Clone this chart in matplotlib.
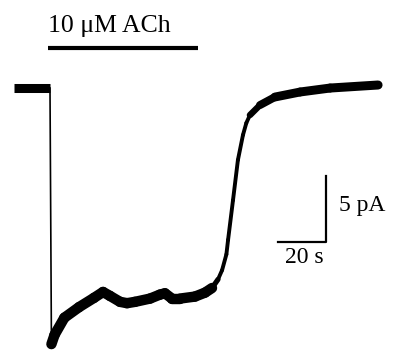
import matplotlib
matplotlib.use("Agg")
import matplotlib.pyplot as plt
import numpy as np
from matplotlib.collections import LineCollection

# current trace (time in s, current in pA, baseline = 0)
base_t = [0, 15]
base_i = [0, 0]
drop_t = [15, 15.6]
drop_i = [0, -19.4]
trace_t = [15.6, 16.9, 21.0, 27.1, 33.3, 37.1, 40.0, 44.2, 47.1, 50.4, 56.7, 60.8,
           62.9, 65.8, 69.2, 75.4, 79.6, 82.5, 85.0, 86.7, 88.5, 89.2, 91.25, 93.3,
           95.4, 96.8, 98.3, 102.5, 108.75, 119.2, 131.7, 151.7]
trace_i = [-19.4, -18.7, -17.4, -16.6, -15.9, -15.45, -15.75, -16.2, -16.3, -16.2,
           -15.95, -15.65, -15.55, -15.95, -15.95, -15.8, -15.5, -15.15, -14.5, -13.8,
           -12.6, -11.5, -8.5, -5.45, -3.56, -2.65, -2.05, -1.29, -0.68, -0.3, 0.0, 0.23]

ach_on, ach_off = 14.2, 76.7
bar_t, bar_i = 20, 5   # scale bar sizes

fig = plt.figure(figsize=(3.95, 3.54), dpi=100)
ax = fig.add_axes([0, 0, 1, 1])
ax.set_xlim(-5.83, 158.75)
ax.set_ylim(-20.15, 6.67)
ax.axis('off')

ax.plot(base_t, base_i, color='black', lw=6.5, solid_capstyle='butt')
ax.plot(drop_t, drop_i, color='black', lw=1.2)

# thick noisy trace: roughly constant vertical thickness, so thinner where steep
pts = np.column_stack([trace_t, trace_i])
segs = np.stack([pts[:-1], pts[1:]], axis=1)
pix_slope = np.abs(np.diff(trace_i) / np.diff(trace_t)) * 5.5
widths = np.maximum(6.5 / np.sqrt(1 + pix_slope ** 2), 2.8)
widths[np.array(trace_t[:-1]) < 80] = 7.5   # noisy trough is thickest
lc = LineCollection(segs, colors='black', linewidths=widths, capstyle='round', joinstyle='round')
ax.add_collection(lc)

# ACh application bar
ax.plot([ach_on, ach_off], [3.03, 3.03], color='black', lw=3, solid_capstyle='butt')
ax.text(ach_on, 3.9, '10 μM ACh', fontsize=18.5, family='Liberation Serif', va='bottom', ha='left')

# scale bars
x0, y0 = 110, -11.67
ax.plot([x0, x0 + bar_t, x0 + bar_t], [y0, y0, y0 + bar_i], color='black', lw=1.6)
ax.text(x0 + bar_t / 2 + 0.8, y0 - 0.4, '%d s' % bar_t, fontsize=17, family='Liberation Serif',
        ha='center', va='top')
ax.text(x0 + bar_t + 5.5, y0 + bar_i / 2 + 0.3, '%d pA' % bar_i, fontsize=17,
        family='Liberation Serif', ha='left', va='center')

fig.savefig('out.png', dpi=100)
